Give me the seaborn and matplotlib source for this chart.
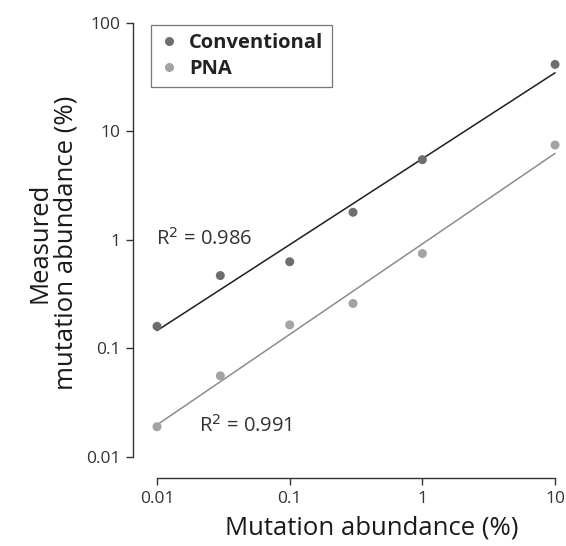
import numpy as np
import pandas as pd
import matplotlib
matplotlib.use("Agg")
import matplotlib.pyplot as plt
import seaborn as sns
from matplotlib.lines import Line2D

# Data
spiked = [0.01, 0.03, 0.1, 0.3, 1, 10]
conventional = [0.16, 0.47, 0.63, 1.8, 5.5, 41.5]
pna = [0.019, 0.056, 0.165, 0.26, 0.75, 7.5]
r2_conventional = "0.986"
r2_pna = "0.991"
x_ticks = [0.01, 0.1, 1, 10]
x_tick_labels = ["0.01", "0.1", "1", "10"]
y_ticks = [0.01, 0.1, 1, 10, 100]
y_tick_labels = ["0.01", "0.1", "1", "10", "100"]

sns.set_theme(style="ticks")
plt.rcParams["font.family"] = ["Open Sans", "DejaVu Sans"]

df = pd.DataFrame({
    "x": spiked * 2,
    "y": conventional + pna,
    "method": ["Conventional"] * len(spiked) + ["PNA"] * len(spiked),
})

fig = plt.figure(figsize=(5.66, 5.46), dpi=100)
ax = fig.add_axes([0.235, 0.1245, 0.7574, 0.8374])

pt_colors = {"Conventional": "#6e6e6e", "PNA": "#a3a3a3"}
line_colors = {"Conventional": "#1e1e1e", "PNA": "#8c8c8c"}

# fitted lines in log-log space
for name, vals in [("Conventional", conventional), ("PNA", pna)]:
    lx = np.log10(spiked)
    ly = np.log10(vals)
    slope, intercept = np.polyfit(lx, ly, 1)
    fx = np.array([min(spiked), max(spiked)])
    fy = 10 ** (intercept + slope * np.log10(fx))
    sns.lineplot(x=fx, y=fy, ax=ax, color=line_colors[name], lw=1.1,
                 legend=False)

sns.scatterplot(data=df, x="x", y="y", hue="method", palette=pt_colors,
                s=42, edgecolor="none", ax=ax, legend=False, zorder=3)

ax.set_xscale("log")
ax.set_yscale("log")
ax.set_xlim(10 ** -2.181, 10 ** 1.05)
ax.set_ylim(10 ** -2.194, 10 ** 2.02)
ax.set_xticks(x_ticks)
ax.set_xticklabels(x_tick_labels)
ax.set_yticks(y_ticks)
ax.set_yticklabels(y_tick_labels)
ax.minorticks_off()
ax.tick_params(axis="both", length=5, width=1, color="#333333",
               labelsize=12.5, labelcolor="#333333", pad=4)
for s in ["top", "right"]:
    ax.spines[s].set_visible(False)
for s in ["left", "bottom"]:
    ax.spines[s].set_color("#333333")
    ax.spines[s].set_linewidth(1)
ax.spines["bottom"].set_bounds(0.01, 10)
ax.spines["left"].set_bounds(0.01, 100)
ax.set_xlabel("")
ax.set_ylabel("")

# R^2 annotations
ax.text(10 ** (-2 - 0.01), 10 ** 0.01, "R$^2$ = " + r2_conventional,
        fontsize=14.5, color="#333333", ha="left", va="center")
ax.text(10 ** (-2 + 0.32), 10 ** -1.71, "R$^2$ = " + r2_pna,
        fontsize=14.5, color="#333333", ha="left", va="center")

# Legend
handles = [Line2D([], [], marker="o", ls="", color=pt_colors[k],
                  markersize=6.5, markeredgewidth=0) for k in ["Conventional", "PNA"]]
leg = ax.legend(handles, ["Conventional", "PNA"], loc="upper left",
                bbox_to_anchor=(0.042, 0.991), borderaxespad=0,
                frameon=True, fancybox=False, handletextpad=0.5,
                handlelength=1.0, borderpad=0.4, labelspacing=0.3,
                prop={"size": 14.5, "weight": "bold"})
leg.get_frame().set_edgecolor("#555555")
leg.get_frame().set_linewidth(0.9)
for t in leg.get_texts():
    t.set_color("#222222")

fig.text(53 / 566, 1 - 243 / 546, "Measured\nmutation abundance (%)",
         rotation=90, ha="center", va="center", fontsize=18.5,
         color="#1a1a1a", linespacing=1.1)
fig.text(372 / 566, 1 - 528 / 546, "Mutation abundance (%)",
         ha="center", va="center", fontsize=18.5, color="#1a1a1a")

fig.savefig("out.png", dpi=100)
